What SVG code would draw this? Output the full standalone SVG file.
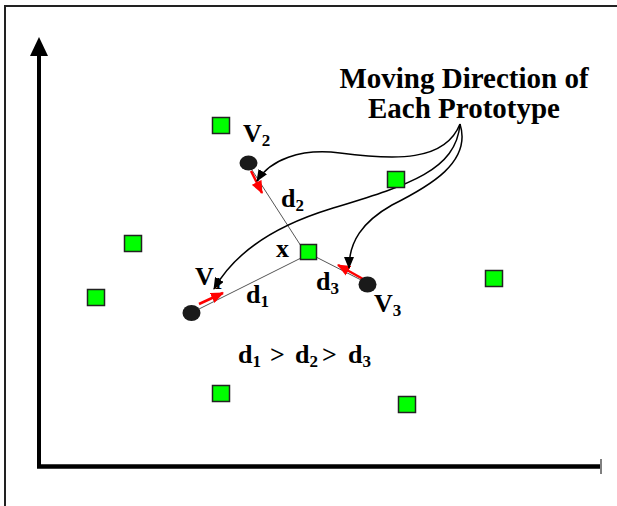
<svg xmlns="http://www.w3.org/2000/svg" width="617" height="506" viewBox="0 0 617 506">
  <defs>
    <marker id="headBlack" viewBox="0 0 12 10" refX="11" refY="5" markerWidth="12" markerHeight="10" markerUnits="userSpaceOnUse" orient="auto">
      <path d="M0,0 L12,5 L0,10 Z" fill="#000"/>
    </marker>
    <marker id="headRed" viewBox="0 0 12 10" refX="11" refY="5" markerWidth="13" markerHeight="11" markerUnits="userSpaceOnUse" orient="auto">
      <path d="M0,0 L12,5 L0,10 Z" fill="#ff0000"/>
    </marker>
  </defs>
  <style>
    .proto { fill: #00ff00; stroke: #222; stroke-width: 1.5; }
    .dot { fill: #1a1a1a; }
    .dist { stroke: #555; stroke-width: 1; fill: none; }
    .move { stroke: #ff0000; stroke-width: 2.5; fill: none; marker-end: url(#headRed); }
    .curve { stroke: #000; stroke-width: 1.5; fill: none; marker-end: url(#headBlack); }
    .lbl { font-family: "Liberation Serif", "Times New Roman", serif; font-weight: bold; fill: #000; }
    .main { font-size: 26px; }
    .sub { font-size: 17px; }
    .title { font-size: 29px; text-anchor: middle; }
  </style>

  <rect x="0" y="0" width="617" height="506" fill="#fff"/>
  <!-- frame -->
  <path d="M5,506 L5,6 L617,6" fill="none" stroke="#222" stroke-width="2"/>

  <!-- axes -->
  <g id="axes">
    <line x1="39" y1="54" x2="39" y2="468" stroke="#000" stroke-width="4"/>
    <polygon points="39,37 30,56 48,56" fill="#000"/>
    <line x1="37" y1="466.5" x2="600" y2="466.5" stroke="#000" stroke-width="4.5"/>
    <line x1="601" y1="459" x2="601" y2="474" stroke="#000" stroke-width="1"/>
  </g>

  <!-- distance lines from each prototype to x, moves and caption pointers -->
  <g id="connectors">
    <line class="dist" x1="250" y1="167" x2="301" y2="246"/>
    <line class="dist" x1="193" y1="312" x2="301" y2="258"/>
    <line class="dist" x1="365" y1="282" x2="316" y2="257"/>
    <line class="move" x1="251" y1="171" x2="262" y2="193"/>
    <line class="move" x1="199" y1="304" x2="223" y2="293"/>
    <line class="move" x1="363" y1="279" x2="338" y2="265"/>
    <path class="curve" d="M460,124 C445,162 395,160 340,153 C300,148 270,160 257,181"/>
    <path class="curve" d="M460,124 C456,172 405,186 330,209 C275,226 235,252 214,289"/>
    <path class="curve" d="M460,124 C472,162 430,186 392,205 C362,222 349,242 349,268"/>
  </g>

  <!-- data samples -->
  <g id="samples">
    <rect class="proto" x="212.5" y="117.5" width="17" height="16"/>
    <rect class="proto" x="387.5" y="171.5" width="17" height="16"/>
    <rect class="proto" x="124.5" y="235.5" width="17" height="16"/>
    <rect class="proto" x="87.5" y="289.5" width="17" height="16"/>
    <rect class="proto" x="485.5" y="270.5" width="17" height="16"/>
    <rect class="proto" x="212.5" y="385.5" width="17" height="16"/>
    <rect class="proto" x="398.5" y="396.5" width="17" height="16"/>
  </g>

  <g id="x">
    <rect class="proto" x="300.5" y="244.5" width="16" height="15"/>
    <text class="lbl main" x="276" y="257">x</text>
  </g>

  <g id="v1">
    <ellipse class="dot" cx="191.5" cy="313" rx="9" ry="8"/>
    <text class="lbl main" x="195" y="285">V<tspan class="sub" dy="4">1</tspan></text>
  </g>
  <g id="v2">
    <ellipse class="dot" cx="248.5" cy="163" rx="9" ry="7.5"/>
    <text class="lbl main" x="243" y="142">V<tspan class="sub" dy="4">2</tspan></text>
  </g>
  <g id="v3">
    <ellipse class="dot" cx="367.5" cy="284.5" rx="9" ry="8"/>
    <text class="lbl main" x="374" y="312">V<tspan class="sub" dy="4">3</tspan></text>
  </g>

  <g id="labels">
    <text class="lbl main" x="281" y="207">d<tspan class="sub" dy="4">2</tspan></text>
    <text class="lbl main" x="246" y="303">d<tspan class="sub" dy="4">1</tspan></text>
    <text class="lbl main" x="316" y="290">d<tspan class="sub" dy="4">3</tspan></text>
    <text class="lbl main" x="238" y="363">d<tspan class="sub" dy="4">1</tspan><tspan x="270" dy="-4">&gt;</tspan><tspan x="295">d</tspan><tspan class="sub" dy="4">2</tspan><tspan x="322" dy="-4">&gt;</tspan><tspan x="348">d</tspan><tspan class="sub" dy="4">3</tspan></text>
  </g>

  <g id="caption">
    <text class="lbl title" x="464" y="88">Moving Direction of</text>
    <text class="lbl title" x="464" y="118">Each Prototype</text>
  </g>
</svg>
